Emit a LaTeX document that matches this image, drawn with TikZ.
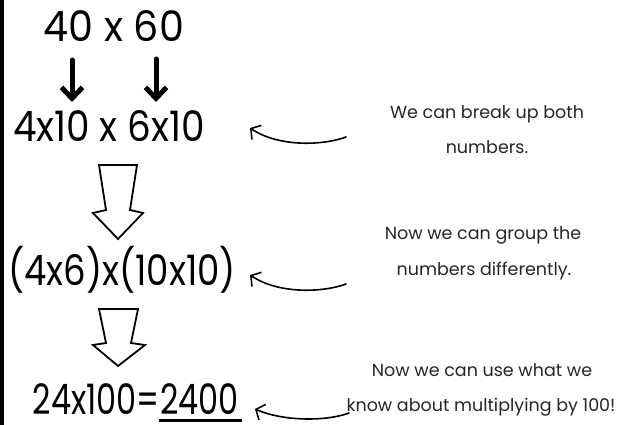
\documentclass[tikz,border=0pt]{standalone}
\usepackage{fontspec}
\setmainfont{Poppins}
\usetikzlibrary{arrows.meta}

\tikzset{
  mathtext/.style={font=\fontsize{42}{46}\selectfont,inner sep=0pt,anchor=base},
  notetext/.style={font=\fontsize{17.5}{21}\selectfont,inner sep=0pt,anchor=base,text=black!85},
  pointer/.style={-{Straight Barb[length=7pt,width=17pt]},line width=1.6pt},
  splitarrow/.style={-{Straight Barb[length=11pt,width=21pt]},line width=5pt},
  bigarrow/.style={draw,line width=1.8pt,fill=white,line join=miter}
}

\begin{document}
\begin{tikzpicture}[x=1pt,y=-1pt,line cap=round,line join=round]
\useasboundingbox (0,0) rectangle (619,425);
\fill (0,0) rectangle (4,425);
% left column: the working
\node[mathtext] (prob) at (114,42) {\scalebox{.945}[1]{40 x 60}};
\node[mathtext] (split) at (109,142) {\scalebox{.89}[1]{4x10 x 6x10}};
\node[mathtext] (group) at (122,285) {\scalebox{.845}[1]{(4x6)x(10x10)}};
\node[mathtext,anchor=base east] (res) at (160,414) {\scalebox{.76}[1]{24x100=}};
\node[mathtext,anchor=base west] (ans) at (res.base east) {\scalebox{.76}[1]{2400}};
\draw[line width=3pt,line cap=butt] ([xshift=-1pt,yshift=-6pt]ans.base west) -- ([xshift=3pt,yshift=-6pt]ans.base east);
\coordinate (s1) at (72,60);
\coordinate (e1) at (72,102);
\coordinate (s2) at (156,59);
\coordinate (e2) at (156,102);
\draw[splitarrow] (s1) -- (e1);
\draw[splitarrow] (s2) -- (e2);
\draw[bigarrow] (99,165) -- (137,165) -- (130,210) -- (143,213) -- (118,239) -- (93,213) -- (106,210) -- cycle;
\draw[bigarrow] (99,309) -- (138,309) -- (131,343) -- (145,345) -- (118,366) -- (93,345) -- (106,343) -- cycle;
% right column: the notes
\node[notetext] (n1a) at (487,119) {We can break up both};
\node[notetext] (n1b) at (487,154) {numbers.};
\node[notetext] (n2a) at (483,240) {Now we can group the};
\node[notetext] (n2b) at (484,275) {numbers differently.};
\node[notetext] (n3a) at (482,376) {Now we can use what we};
\node[notetext] (n3b) at (481,411) {know about multiplying by 100!};
\coordinate (p1s) at (346,137);
\coordinate (p1e) at (250,128);
\coordinate (p2s) at (346,284);
\coordinate (p2e) at (250,275);
\coordinate (p3s) at (349,413);
\coordinate (p3e) at (255,409);
\draw[pointer] (p1s) .. controls (325,145) and (280,148) .. (p1e);
\draw[pointer] (p2s) .. controls (325,292) and (280,295) .. (p2e);
\draw[pointer] (p3s) .. controls (328,421) and (285,422) .. (p3e);
\end{tikzpicture}
\end{document}
